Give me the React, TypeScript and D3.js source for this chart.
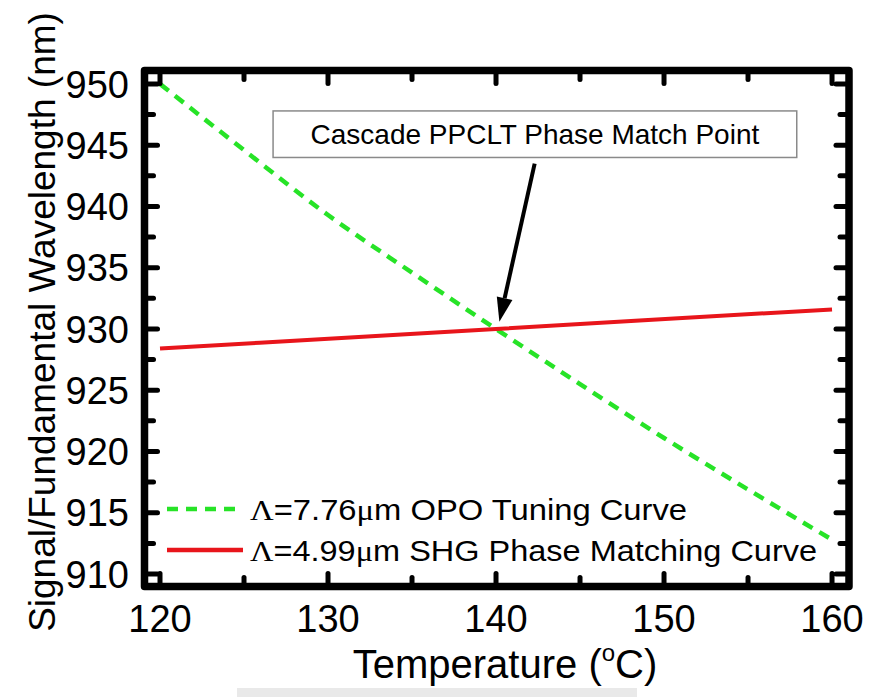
import React from 'react';
import * as d3 from 'd3';

// ---- data ----
const opoTemps = [120, 125, 130, 135, 140, 145, 150, 155, 160];
const opoWavelength = [950.0, 944.6, 939.3, 934.6, 930.0, 925.5, 921.1, 916.9, 912.8];
const shgTemps = [120, 140, 160];
const shgWavelength = [928.4, 930.0, 931.6];
const xTickValues = [120, 130, 140, 150, 160];
const xMinorValues = [125, 135, 145, 155];
const yTickValues = [910, 915, 920, 925, 930, 935, 940, 945, 950];
const yMinorValues = [912.5, 917.5, 922.5, 927.5, 932.5, 937.5, 942.5, 947.5];
const legendLabels = [
  { pre: '=7.76', post: 'm OPO Tuning Curve' },
  { pre: '=4.99', post: 'm SHG Phase Matching Curve' },
];
const annotationText = 'Cascade PPCLT Phase Match Point';
const xTitle = 'Temperature (';
const yTitle = 'Signal/Fundamental Wavelength (nm)';

const SANS = '"Liberation Sans", Arial, Helvetica, sans-serif';
const SERIF = '"Liberation Serif", "Times New Roman", serif';
const GREEN = '#27e327';
const RED = '#e8151b';

export default function App() {
  const W = 872, H = 697;
  const left = 144.5, right = 849, top = 70.5, bottom = 586.5;
  const x = d3.scaleLinear().domain([119.077, 161.01]).range([left, right]);
  const y = d3.scaleLinear().domain([908.98, 951.1]).range([bottom, top]);

  const opoData = opoTemps.map((t, i) => [t, opoWavelength[i]] as [number, number]);
  const shgData = shgTemps.map((t, i) => [t, shgWavelength[i]] as [number, number]);
  const line = d3.line<[number, number]>().x(d => x(d[0])).y(d => y(d[1])).curve(d3.curveMonotoneX);

  const majorLen = 13, minorLen = 9;
  const tickW = 5;

  // annotation geometry in data space
  const boxX0 = x(126.73), boxX1 = x(157.9), boxY0 = y(947.8), boxY1 = y(944.0);
  const tail: [number, number] = [x(142.3), y(943.5)];
  const tip: [number, number] = [x(140.2), y(930.6)];
  const ang = Math.atan2(tip[1] - tail[1], tip[0] - tail[0]);
  const headL = 24, headW = 8;
  const bx = tip[0] - headL * Math.cos(ang), by = tip[1] - headL * Math.sin(ang);
  const px = -Math.sin(ang), py = Math.cos(ang);
  const head = `M${tip[0]},${tip[1]} L${bx + px * headW},${by + py * headW} L${bx - px * headW},${by - py * headW} Z`;

  const legendY = [509, 550];
  const legendText = [520, 561];
  const legendWidths = [437, 567];

  return (
    <svg width={W} height={H} style={{ position: 'absolute', left: 0, top: 0, background: '#fff' }}>
      <rect x={0} y={0} width={W} height={H} fill="#fff" />
      <rect x={237} y={688} width={400} height={9} fill="#e9e9e9" />

      {/* curves */}
      <path d={line(opoData) || ''} fill="none" stroke={GREEN} strokeWidth={4.5} strokeDasharray="11 8" />
      <path d={line(shgData) || ''} fill="none" stroke={RED} strokeWidth={4} />

      {/* ticks */}
      {xTickValues.map(v => (
        <g key={'xt' + v}>
          <line x1={x(v)} x2={x(v)} y1={bottom} y2={bottom - majorLen} stroke="#000" strokeWidth={tickW} strokeLinecap="round" />
          <line x1={x(v)} x2={x(v)} y1={top} y2={top + majorLen} stroke="#000" strokeWidth={tickW} strokeLinecap="round" />
        </g>
      ))}
      {xMinorValues.map(v => (
        <g key={'xm' + v}>
          <line x1={x(v)} x2={x(v)} y1={bottom} y2={bottom - minorLen} stroke="#000" strokeWidth={tickW} strokeLinecap="round" />
          <line x1={x(v)} x2={x(v)} y1={top} y2={top + minorLen} stroke="#000" strokeWidth={tickW} strokeLinecap="round" />
        </g>
      ))}
      {yTickValues.map(v => (
        <g key={'yt' + v}>
          <line x1={left} x2={left + majorLen} y1={y(v)} y2={y(v)} stroke="#000" strokeWidth={tickW} strokeLinecap="round" />
          <line x1={right} x2={right - majorLen} y1={y(v)} y2={y(v)} stroke="#000" strokeWidth={tickW} strokeLinecap="round" />
        </g>
      ))}
      {yMinorValues.map(v => (
        <g key={'ym' + v}>
          <line x1={left} x2={left + minorLen} y1={y(v)} y2={y(v)} stroke="#000" strokeWidth={tickW} strokeLinecap="round" />
          <line x1={right} x2={right - minorLen} y1={y(v)} y2={y(v)} stroke="#000" strokeWidth={tickW} strokeLinecap="round" />
        </g>
      ))}

      {/* frame */}
      <rect x={left} y={top} width={right - left} height={bottom - top} fill="none" stroke="#000" strokeWidth={7.5} strokeLinejoin="round" />

      {/* tick labels */}
      {xTickValues.map(v => (
        <text key={'xl' + v} x={x(v)} y={632} textAnchor="middle" fontFamily={SANS} fontSize={38} fill="#000">{v}</text>
      ))}
      {yTickValues.map(v => (
        <text key={'yl' + v} x={129} y={y(v)} dy="0.36em" textAnchor="end" fontFamily={SANS} fontSize={38} fill="#000">{v}</text>
      ))}

      {/* axis titles */}
      <text x={505} y={678} textAnchor="middle" fontFamily={SANS} fontSize={40} fill="#000">
        {xTitle}
        <tspan fontSize={24} dy={-17}>o</tspan>
        <tspan dy={17}>C)</tspan>
      </text>
      <text transform={`translate(55,${322}) rotate(-90)`} textAnchor="middle" fontFamily={SANS} fontSize={37} fill="#000">{yTitle}</text>

      {/* legend */}
      {legendLabels.map((l, i) => (
        <g key={'lg' + i}>
          <line x1={167} x2={243} y1={legendY[i]} y2={legendY[i]} stroke={i === 0 ? GREEN : RED} strokeWidth={4.5} strokeDasharray={i === 0 ? '11 8' : undefined} />
          <text x={250} y={legendText[i]} fontFamily={SANS} fontSize={29} fill="#000" textLength={legendWidths[i]} lengthAdjust="spacingAndGlyphs">
            <tspan fontFamily={SERIF}>Λ</tspan>{l.pre}<tspan fontFamily={SERIF}>μ</tspan>{l.post}
          </text>
        </g>
      ))}

      {/* annotation */}
      <rect x={boxX0} y={boxY0} width={boxX1 - boxX0} height={boxY1 - boxY0} fill="#fff" stroke="#8a8a8a" strokeWidth={1.5} />
      <text x={(boxX0 + boxX1) / 2} y={(boxY0 + boxY1) / 2} dy="0.36em" textAnchor="middle" fontFamily={SANS} fontSize={28} fill="#000">{annotationText}</text>
      <line x1={tail[0]} y1={tail[1]} x2={bx} y2={by} stroke="#000" strokeWidth={4} />
      <path d={head} fill="#000" />
    </svg>
  );
}
